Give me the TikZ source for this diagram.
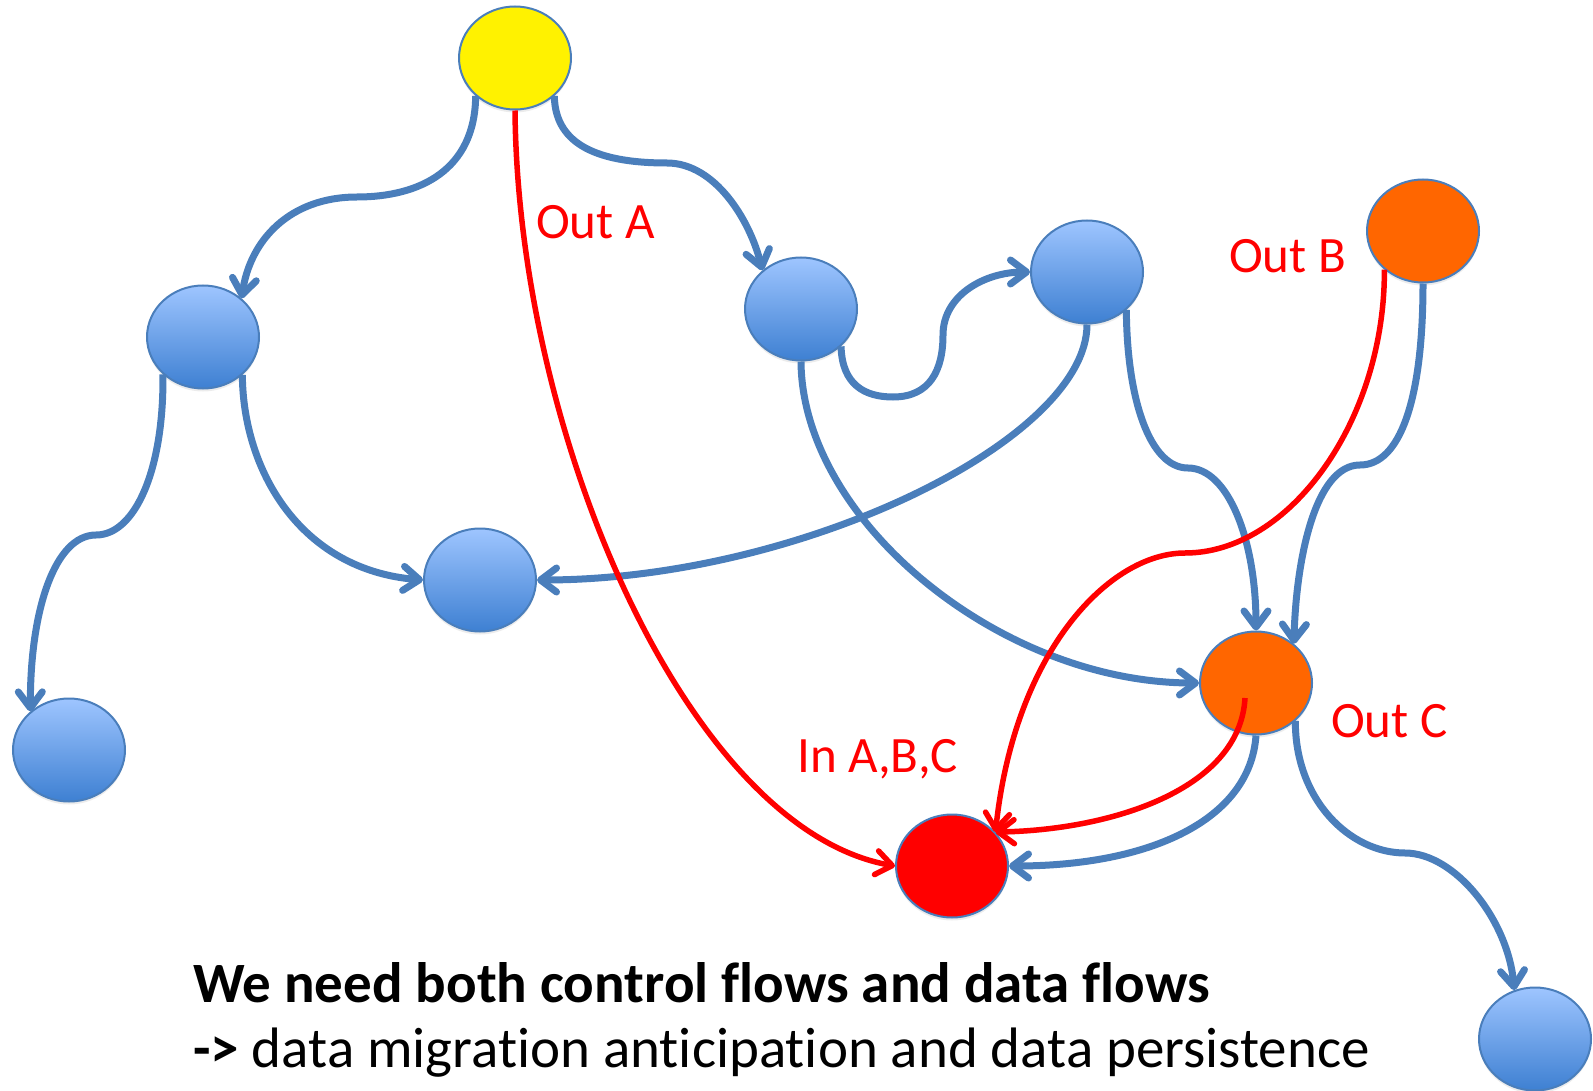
\documentclass[tikz,border=0pt]{standalone}
\usepackage{fontspec}
\setmainfont{Carlito}[Ligatures=NoCommon]
\usetikzlibrary{arrows.meta,shapes.geometric,calc,shadows}
\definecolor{lnblue}{RGB}{74,126,187}
\definecolor{fillTop}{RGB}{158,197,255}
\definecolor{fillBot}{RGB}{62,128,210}
\definecolor{orangeC}{RGB}{255,102,0}
\begin{document}
\begin{tikzpicture}[x=1pt,y=-1pt,
  nodebase/.style={ellipse, minimum width=112pt, minimum height=103pt, inner sep=0pt,
    draw=lnblue, line width=2pt,
    drop shadow={opacity=0.15, shadow xshift=0pt, shadow yshift=-3pt}},
  bluenode/.style={nodebase, top color=fillTop, bottom color=fillBot},
  yellownode/.style={nodebase, fill=yellow},
  orangenode/.style={nodebase, fill=orangeC},
  rednode/.style={nodebase, fill=red},
  tip/.style={-{Straight Barb[length=16pt,width=24pt,round]}},
  shade/.style={preaction={draw=black, draw opacity=0.12, transform canvas={yshift=-2.5pt}}},
  flow/.style={draw=lnblue, line width=7pt, tip, shade},
  dflow/.style={draw=red, line width=5.5pt, tip, shade},
  lab/.style={text=red, font=\fontsize{51}{60}\selectfont, anchor=base west, inner sep=0pt}]
\useasboundingbox (0,0) rectangle (1593,1091);

% nodes
\node[yellownode] (Y)  at (515,58)  {};
\node[bluenode]   (B1) at (203,337) {};
\node[bluenode]   (B2) at (801,309) {};
\node[bluenode]   (B3) at (1087,272) {};
\node[bluenode]   (M)  at (480,580) {};
\node[bluenode]   (BL) at (69,750)  {};
\node[orangenode] (OB) at (1423,231) {};
\node[orangenode] (OC) at (1256,683) {};
\node[rednode]    (R)  at (952,866) {};
\node[bluenode]   (BR) at (1535,1039) {};
\coordinate (ocin) at (1245,698);

% control flows
\draw[flow] (Y.224) .. controls (475,170) and (420,197) .. (357,197)
            .. controls (290,197) and (250,240) .. (B1.45);
\draw[flow] (Y.316) .. controls (555,140) and (590,163) .. (667,163)
            .. controls (715,163) and (750,220) .. (B2.135);
\draw[flow] (B2.317) .. controls (842,385) and (865,397) .. (893,397)
            .. controls (930,397) and (943,370) .. (943,335)
            .. controls (943,295) and (985,272) .. (B3.180);
\draw[flow] (B2.south) .. controls (802,520) and (1000,683) .. (OC.west);
\draw[flow] (B3.south) .. controls (1087,440) and (800,580) .. (M.east);
\draw[flow] (B3.316) .. controls (1127,400) and (1150,468) .. (1188,468)
            .. controls (1228,468) and (1256,540) .. (OC.north);
\draw[flow] (OB.south) .. controls (1423,400) and (1400,465) .. (1360,465)
            .. controls (1315,465) and (1296,560) .. (OC.46);
\draw[flow] (B1.223) .. controls (164,470) and (135,535) .. (96,535)
            .. controls (55,535) and (30,610) .. (BL.135);
\draw[flow] (B1.316) .. controls (243,470) and (300,570) .. (M.west);
\draw[flow] (OC.south) .. controls (1250,820) and (1150,866) .. (R.east);
\draw[flow] (OC.316) .. controls (1295,800) and (1350,853) .. (1405,853)
            .. controls (1455,853) and (1508,920) .. (BR.113);

% data flows
\draw[dflow] (Y.south) .. controls (518,440) and (690,830) .. (R.west);
\draw[dflow] (OB.225) .. controls (1385,420) and (1290,553) .. (1185,553)
             .. controls (1110,553) and (1015,650) .. (R.38);
\draw[dflow] (ocin) .. controls (1240,790) and (1110,830) .. (R.38);

% labels
\node[lab] (la) at (536,239) {Out A};
\node[lab] (lb) at (1229,273) {Out B};
\node[lab] (lc) at (1331,737) {Out C};
\node[lab] (li) at (797,772) {In A,B,C};

\node[anchor=base west, inner sep=0pt, font=\fontsize{57}{66}\selectfont\bfseries] (t1)
  at (193,1002) {We need both control flows and data flows};
\node[anchor=base west, inner sep=0pt, font=\fontsize{57}{66}\selectfont] (t2)
  at (193,1067) {\textbf{->} data migration anticipation and data persistence};
\end{tikzpicture}
\end{document}
